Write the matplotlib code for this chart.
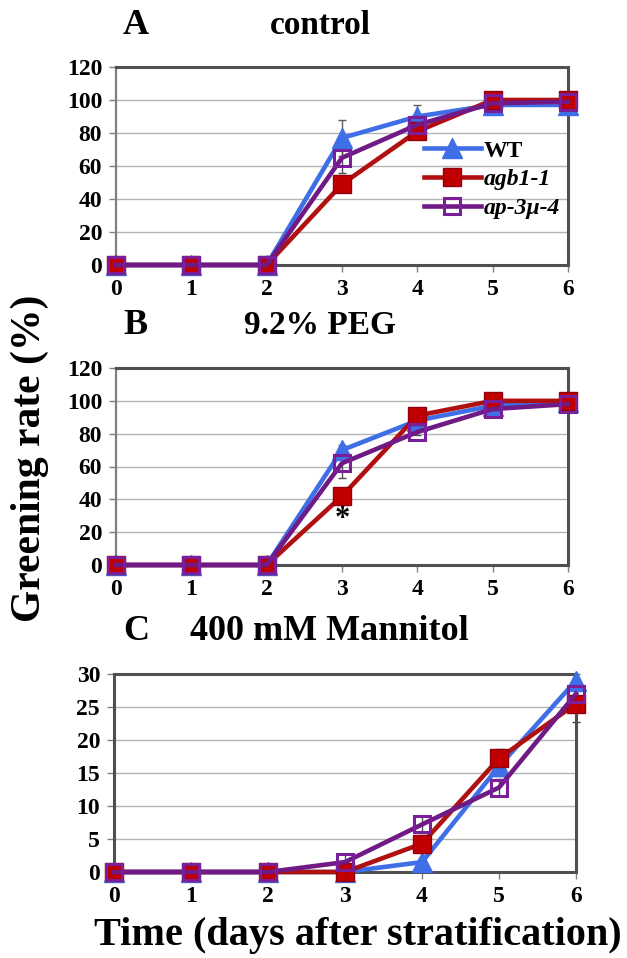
import matplotlib
matplotlib.use("Agg")
import matplotlib.pyplot as plt
import numpy as np

days = [0, 1, 2, 3, 4, 5, 6]

# Panel A: control
a_wt = [0, 0, 0, 77, 90, 97, 97]
a_wt_err = [0, 0, 0, 11, 7, 1, 1]
a_agb = [0, 0, 0, 49, 81, 100, 100]
a_agb_err = [0, 0, 0, 4, 3, 0, 0]
a_ap3 = [0, 0, 0, 65, 85, 98, 99]
a_ap3_err = [0, 0, 0, 9, 3, 1, 1]

# Panel B: 9.2% PEG
b_wt = [0, 0, 0, 70, 88, 97, 99]
b_wt_err = [0, 0, 0, 3, 2, 1, 1]
b_agb = [0, 0, 0, 42, 91, 100, 100]
b_agb_err = [0, 0, 0, 2, 2, 0, 0]
b_ap3 = [0, 0, 0, 62, 81, 95, 98]
b_ap3_err = [0, 0, 0, 9, 2, 1, 1]

# Panel C: 400 mM Mannitol
c_wt = [0, 0, 0, 0, 1.5, 16, 29]
c_wt_err = [0, 0, 0, 0, 0.5, 1.5, 1.0]
c_agb = [0, 0, 0, 0, 4.3, 17.2, 25.5]
c_agb_err = [0, 0, 0, 0, 1.2, 1.5, 2.8]
c_ap3 = [0, 0, 0, 1.5, 7.2, 12.8, 27]
c_ap3_err = [0, 0, 0, 1.2, 1.3, 1.3, 1.0]

labels = ["WT", "agb1-1", "ap-3\u03bc-4"]
titles = ["control", "9.2% PEG", "400 mM Mannitol"]
letters = ["A", "B", "C"]

blue = "#3f6fe6"
red = "#c00000"
red_line = "#b01010"
purple = "#7a1f99"
purple_line = "#701a86"

plt.rcParams["font.family"] = ["Liberation Serif", "DejaVu Serif"]
plt.rcParams["font.weight"] = "bold"

W, H = 627, 958
fig = plt.figure(figsize=(W / 100, H / 100), dpi=100)

def ax_rect(left, right, top, bottom):
    return [left / W, 1 - bottom / H, (right - left) / W, (bottom - top) / H]

rects = [ax_rect(116, 568, 67, 265), ax_rect(116, 568, 368, 565), ax_rect(114, 576, 674, 872)]
data = [
    (a_wt, a_wt_err, a_agb, a_agb_err, a_ap3, a_ap3_err),
    (b_wt, b_wt_err, b_agb, b_agb_err, b_ap3, b_ap3_err),
    (c_wt, c_wt_err, c_agb, c_agb_err, c_ap3, c_ap3_err),
]
ylims = [(0, 120, 20), (0, 120, 20), (0, 30, 5)]

handles = []
for i, (rect, d, yl) in enumerate(zip(rects, data, ylims)):
    ax = fig.add_axes(rect)
    wt, wte, agb, agbe, ap3, ap3e = d
    ax.set_xlim(0, 6)
    ax.set_ylim(yl[0], yl[1])
    ax.set_yticks(np.arange(yl[0], yl[1] + 0.1, yl[2]))
    ax.set_xticks(days)
    ax.grid(axis="y", color="#b4b4b4", lw=1.0, zorder=0)
    ax.set_axisbelow(True)
    for s in ["top", "right", "left", "bottom"]:
        ax.spines[s].set_color("#505050")
        ax.spines[s].set_linewidth(2.2)
    if i < 2:
        ax.spines["left"].set_color("#808080")
        ax.spines["left"].set_linewidth(1.6)
    ax.tick_params(axis="both", labelsize=17, length=5, width=1, color="#808080", pad=5)
    for lab in ax.get_xticklabels() + ax.get_yticklabels():
        lab.set_fontweight("bold")

    # error bars
    ax.errorbar(days, wt, yerr=wte, fmt="none", ecolor="#606060", elinewidth=1, capsize=3, zorder=2, clip_on=False)
    ax.errorbar(days, agb, yerr=agbe, fmt="none", ecolor="#404040", elinewidth=1, capsize=3, zorder=2, clip_on=False)
    ax.errorbar(days, ap3, yerr=ap3e, fmt="none", ecolor="#505050", elinewidth=1, capsize=3, zorder=2, clip_on=False)

    l1, = ax.plot(days, wt, color=blue, lw=3.3, marker="^", ms=14, mfc=blue, mec=blue, zorder=3, clip_on=False)
    l2, = ax.plot(days, agb, color=red_line, lw=3.3, marker="s", ms=12.5, mfc=red, mec="#900010", zorder=4, clip_on=False)
    l3, = ax.plot(days, ap3, color=purple_line, lw=3.3, marker="s", ms=11, mfc="none", mec=purple, mew=2.2, zorder=5, clip_on=False)
    if i == 0:
        handles = [l1, l2, l3]

    if i == 1:
        ax.text(3, 28, "*", ha="center", va="center", fontsize=22, fontweight="bold")

title_y = [25, 325, 632]
title_x = [320, 320, 329]
title_fs = [24, 24, 26]
for i in range(3):
    fig.text(136 / W, 1 - title_y[i] / H, letters[i], ha="center", va="center", fontsize=26, fontweight="bold")
    fig.text(title_x[i] / W, 1 - title_y[i] / H, titles[i], ha="center", va="center", fontsize=title_fs[i], fontweight="bold")

# legend in panel A
ax0 = fig.axes[0]
leg = ax0.legend(handles, labels, loc="upper left", bbox_to_anchor=(0.655, 0.69), frameon=False,
                 fontsize=17, handlelength=2.4, handletextpad=0.15, labelspacing=0.3, borderpad=0)
texts = leg.get_texts()
texts[0].set_fontweight("bold")
texts[1].set_fontstyle("italic")
texts[2].set_fontstyle("italic")

fig.text(30 / W, 1 - 458 / H, "Greening rate (%)", rotation=90, ha="center", va="center", fontsize=30, fontweight="bold")
fig.text(358 / W, 1 - 935 / H, "Time (days after stratification)", ha="center", va="center", fontsize=29, fontweight="bold")

fig.savefig("out.png", dpi=100)
